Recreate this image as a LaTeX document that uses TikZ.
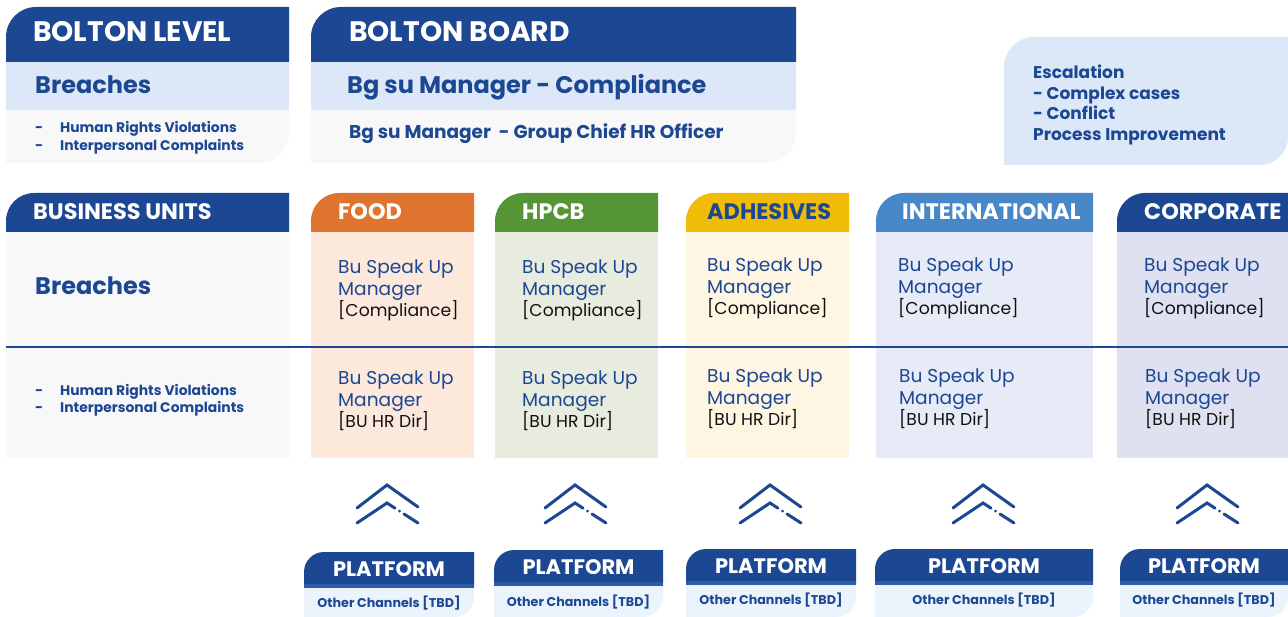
\documentclass[tikz,border=0pt]{standalone}
\usepackage{fontspec}
\setmainfont{Poppins}
\definecolor{dblue}{HTML}{1C4793}
\definecolor{lblue}{HTML}{DCE7F7}
\definecolor{lgray}{HTML}{F8F8F8}
\definecolor{orng}{HTML}{E0742E}
\definecolor{orngL}{HTML}{FCE9DC}
\definecolor{grn}{HTML}{569536}
\definecolor{grnL}{HTML}{E8ECDF}
\definecolor{ylw}{HTML}{F1BC07}
\definecolor{ylwL}{HTML}{FEF5E3}
\definecolor{intb}{HTML}{4887C8}
\definecolor{intL}{HTML}{E6EBF7}
\definecolor{corpL}{HTML}{DFE0F0}
\definecolor{platL}{HTML}{EBF3FC}
\definecolor{platS}{HTML}{2C5CA6}
\definecolor{txtblk}{HTML}{111111}
\newcommand{\mytl}[6]{\fill[#6] (#1,#4) -- (#1,#2+#5) arc[start angle=180,end angle=270,radius=#5] -- (#3,#2) -- (#3,#4) -- cycle;}
\newcommand{\mybr}[6]{\fill[#6] (#1,#2) -- (#3,#2) -- (#3,#4-#5) arc[start angle=0,end angle=90,radius=#5] -- (#1,#4) -- cycle;}
\tikzset{
 ttl/.style={anchor=base west, inner sep=0, text=white, font=\bfseries\fontsize{28.2}{31}\selectfont},
 sub/.style={anchor=base west, inner sep=0, text=dblue, font=\bfseries\fontsize{24}{28}\selectfont},
 lst/.style={anchor=base west, inner sep=0, text=dblue, font=\bfseries\fontsize{13.9}{15}\selectfont},
 sub2/.style={anchor=base west, inner sep=0, text=dblue, font=\bfseries\fontsize{18.5}{21}\selectfont},
 esc/.style={anchor=base west, inner sep=0, text=dblue, font=\bfseries\fontsize{17}{20}\selectfont},
 hdr/.style={anchor=base west, inner sep=0, text=white, font=\bfseries\fontsize{22.4}{25}\selectfont},
 bu/.style={anchor=base west, inner sep=0, text=dblue, font=\fontsize{18.6}{22}\selectfont},
 bk/.style={anchor=base west, inner sep=0, text=txtblk, font=\fontsize{17.2}{22}\selectfont},
 plat/.style={anchor=base, inner sep=0, text=white, font=\bfseries\fontsize{21}{23}\selectfont},
 oth/.style={anchor=base, inner sep=0, text=dblue, font=\bfseries\fontsize{12.7}{15}\selectfont},
 chev/.style={draw=dblue, line width=3pt, line cap=round, line join=miter},
}
\begin{document}
\begin{tikzpicture}[x=1pt,y=-1pt]
\fill[white] (0,0) rectangle (1288,617);
\useasboundingbox (0,0) rectangle (1288,617);

% ---------- Bolton level ----------
\mytl{6}{7}{289}{62}{30}{dblue}
\fill[lblue] (6,62) rectangle (289,110);
\mybr{6}{110}{289}{163}{30}{lgray}
\node[ttl] (blT) at (33,42) {BOLTON LEVEL};
\node[sub] (blB) at (35,94) {Breaches};
\node[lst] (blD1) at (35,133) {-};
\node[lst] (blL1) at (60,133) {Human Rights Violations};
\node[lst] (blD2) at (35,150.5) {-};
\node[lst] (blL2) at (60,150.5) {Interpersonal Complaints};

% ---------- Bolton board ----------
\mytl{311}{7}{796}{62}{30}{dblue}
\fill[lblue] (311,62) rectangle (796,110);
\mybr{311}{110}{796}{163}{30}{lgray}
\node[ttl] (bbT) at (349,42) {BOLTON BOARD};
\node[sub] (bbC) at (347,94) {Bg su Manager - Compliance};
\node[sub2] (bbH) at (349,139) {Bg su Manager\ \ - Group Chief HR Officer};

% ---------- Escalation ----------
\fill[lblue] (1004,165) -- (1004,67) arc[start angle=180,end angle=270,radius=30] -- (1288,37) -- (1288,137) arc[start angle=0,end angle=90,radius=28] -- cycle;
\node[esc] (e1) at (1033,79) {Escalation};
\node[esc] (e2) at (1033,99.5) {- Complex cases};
\node[esc] (e3) at (1033,120) {- Conflict};
\node[esc] (e4) at (1033,140.5) {Process Improvement};

% ---------- Business units ----------
\mytl{6}{193}{289}{232}{28}{dblue}
\fill[lgray] (6,232) rectangle (289,458);
\node[hdr] (buT) at (33,220) {BUSINESS UNITS};
\node[sub] (buB) at (35,295) {Breaches};
\node[lst] (buD1) at (35,396) {-};
\node[lst] (buL1) at (60,396) {Human Rights Violations};
\node[lst] (buD2) at (35,413) {-};
\node[lst] (buL2) at (60,413) {Interpersonal Complaints};

\foreach \n/\xa/\xb/\hc/\bc/\lab/\tc/\tx in {food/311/474/orng/orngL/FOOD/white/338, hpcb/495/658/grn/grnL/HPCB/white/522, adh/686/849/ylw/ylwL/ADHESIVES/dblue/707, intl/876/1093/intb/intL/INTERNATIONAL/white/902, corp/1117/1288/dblue/corpL/CORPORATE/white/1144}
{
 \fill[\bc] (\xa,232) rectangle (\xb,458);
 \mytl{\xa}{193}{\xb}{232}{28}{\hc}
 \node[hdr, text=\tc] (\n-h) at (\tx,220) {\lab};
}

\foreach \n/\x/\y/\xl/\yl in {food/338/274/338/385, hpcb/522/274/522/385, adh/707/272/707/383, intl/898/272/899/383, corp/1144/272/1145/383}
{
 \node[bu] (\n-a1) at (\x,\y) {Bu Speak Up};
 \node[bu] (\n-a2) at (\x,\y+22) {Manager};
 \node[bk] (\n-a3) at (\x,\y+42.5) {[Compliance]};
 \node[bu] (\n-b1) at (\xl,\yl) {Bu Speak Up};
 \node[bu] (\n-b2) at (\xl,\yl+22) {Manager};
 \node[bk] (\n-b3) at (\xl,\yl+42.5) {[BU HR Dir]};
}

% divider
\coordinate (divL) at (6,347);
\coordinate (divR) at (1288,347);
\draw[dblue, line width=2.5pt] (divL) -- (divR);

% ---------- chevrons ----------
\foreach \c in {387,575,770,983,1207}
{
 \draw[chev] (\c-30,508) -- (\c,485) -- (\c+31,507);
 \draw[chev] (\c-30,523) -- (\c,503) -- (\c+8,508.2);
 \fill[dblue] (\c+12.5,511.1) circle[radius=1.6];
 \draw[chev] (\c+17,514) -- (\c+31,523);
}

% ---------- platforms ----------
\foreach \n/\xa/\xb/\ty/\cx/\pb/\ob in {p1/304/474/552/389/576/607, p2/494/663/550/578.5/574/606, p3/686/856/549/771/573/604, p4/875/1093/549/984/573/604, p5/1120/1288/549/1204/573/604}
{
 \mybr{\xa}{\ty+35}{\xb}{617}{20}{platL}
 \mytl{\xa}{\ty}{\xb}{\ty+35}{20}{dblue}
 \fill[platS] (\xa,\ty+32) rectangle (\xb,\ty+36);
 \node[plat] (\n-t) at (\cx,\pb) {PLATFORM};
 \node[oth] (\n-o) at (\cx,\ob) {Other Channels [TBD]};
}
\end{tikzpicture}
\end{document}
